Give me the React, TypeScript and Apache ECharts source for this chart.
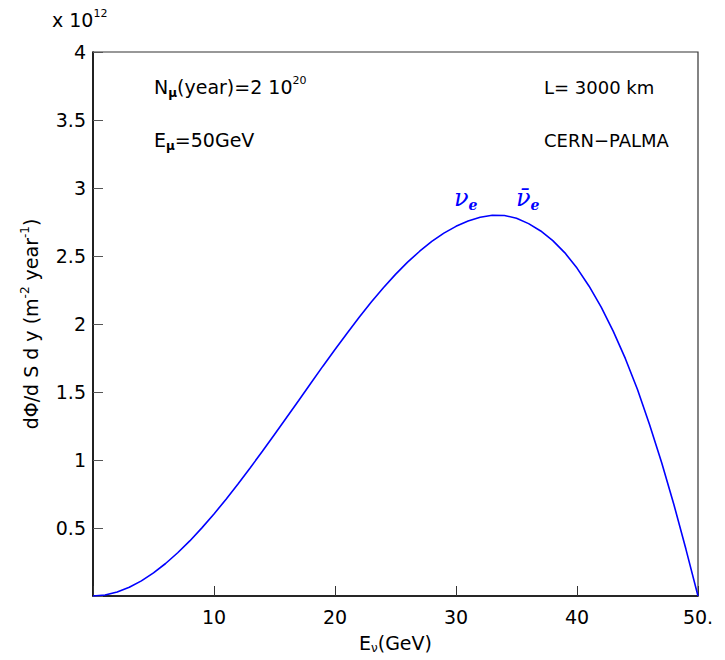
import React, { useEffect, useRef } from "react";
import * as echarts from "echarts";

// Neutrino energy (GeV)
const energies = [
  0, 1, 2, 3, 4, 5, 6, 7, 8, 9, 10, 11, 12, 13, 14, 15, 16, 17, 18, 19, 20,
  21, 22, 23, 24, 25, 26, 27, 28, 29, 30, 31, 32, 33, 34, 35, 36, 37, 38, 39,
  40, 41, 42, 43, 44, 45, 46, 47, 48, 49, 50,
];
// Flux dPhi/dS dy in units of 1e12 m^-2 year^-1
const flux = [
  0, 0.007, 0.029, 0.064, 0.111, 0.17, 0.239, 0.318, 0.405, 0.501, 0.603,
  0.712, 0.825, 0.943, 1.064, 1.188, 1.313, 1.438, 1.564, 1.69, 1.812, 1.932,
  2.05, 2.162, 2.266, 2.365, 2.455, 2.535, 2.607, 2.668, 2.718, 2.757, 2.785,
  2.8, 2.798, 2.778, 2.738, 2.684, 2.613, 2.523, 2.411, 2.278, 2.124, 1.946,
  1.745, 1.518, 1.26, 0.98, 0.675, 0.345, 0,
];
const xTickValues = [0, 10, 20, 30, 40, 50];
const xTickLabels = ["", "10", "20", "30", "40", "50."];
const yTickValues = [0, 0.5, 1, 1.5, 2, 2.5, 3, 3.5, 4];
const yTickLabels = ["", "0.5", "1", "1.5", "2", "2.5", "3", "3.5", "4"];

const FONT = "DejaVu Sans";
const SERIF = "DejaVu Serif";

export default function App() {
  const ref = useRef<HTMLDivElement>(null);
  useEffect(() => {
    if (!ref.current) return;
    const chart = echarts.init(ref.current, undefined, { renderer: "svg" });
    const txt = { fontFamily: FONT, fontSize: 19, color: "#000" };
    const option = {
      animation: false,
      backgroundColor: "#fff",
      grid: {
        left: 93,
        right: 27,
        top: 52,
        bottom: 64,
        show: true,
        borderColor: "#333",
        borderWidth: 1.2,
        backgroundColor: "transparent",
      },
      xAxis: {
        type: "value",
        min: 0,
        max: 50,
        interval: 10,
        name: "{a|E}{s|ν}{a|(GeV)}",
        nameLocation: "middle",
        nameGap: 36,
        nameTextStyle: {
          rich: {
            a: { ...txt, lineHeight: 22 },
            s: { fontFamily: FONT, fontSize: 12, color: "#000", lineHeight: 12, verticalAlign: "bottom" },
          },
        },
        axisLine: { show: true, lineStyle: { color: "#000", width: 1.5 } },
        axisTick: { show: true, inside: true, length: 10, lineStyle: { color: "#333", width: 1 } },
        splitLine: { show: false },
        axisLabel: {
          ...txt,
          margin: 11,
          formatter: (v: number) => {
            const i = xTickValues.indexOf(v);
            return i >= 0 ? xTickLabels[i] : "";
          },
        },
      },
      yAxis: {
        type: "value",
        min: 0,
        max: 4,
        interval: 0.5,
        name: "{a|dΦ/d S d y (m}{s|-2}{a| year}{s|-1}{a|)}",
        nameLocation: "middle",
        nameRotate: 90,
        nameGap: 50,
        nameTextStyle: {
          rich: {
            a: { ...txt, lineHeight: 24 },
            s: { fontFamily: FONT, fontSize: 12, color: "#000", lineHeight: 12, verticalAlign: "top" },
          },
        },
        axisLine: { show: true, lineStyle: { color: "#000", width: 1.5 } },
        axisTick: { show: true, inside: true, length: 10, lineStyle: { color: "#555", width: 1 } },
        splitLine: { show: false },
        axisLabel: {
          ...txt,
          margin: 7,
          formatter: (v: number) => {
            const i = yTickValues.indexOf(v);
            return i >= 0 ? yTickLabels[i] : "";
          },
        },
      },
      series: [
        {
          type: "line",
          data: energies.map((e, i) => [e, flux[i]]),
          showSymbol: false,
          smooth: false,
          lineStyle: { color: "#0000ff", width: 1.6 },
          silent: true,
        },
      ],
      graphic: [
        {
          type: "text",
          x: 52,
          y: 20,
          style: {
            text: "{a|x 10}{s|12}",
            verticalAlign: "middle",
            rich: {
              a: { fontFamily: FONT, fontSize: 19, fill: "#000", lineHeight: 24 },
              s: { fontFamily: FONT, fontSize: 11, fill: "#000", lineHeight: 12, verticalAlign: "top" },
            },
          },
        },
        {
          type: "text",
          x: 154,
          y: 87,
          style: {
            text: "{a|N}{s|μ}{a|(year)=2 10}{p|20}",
            verticalAlign: "middle",
            rich: {
              a: { fontFamily: FONT, fontSize: 19, fill: "#000", lineHeight: 24 },
              s: { fontFamily: FONT, fontSize: 12, fontWeight: "bold", fill: "#000", lineHeight: 12, verticalAlign: "bottom" },
              p: { fontFamily: FONT, fontSize: 11, fill: "#000", lineHeight: 12, verticalAlign: "top" },
            },
          },
        },
        {
          type: "text",
          x: 154,
          y: 140,
          style: {
            text: "{a|E}{s|μ}{a|=50GeV}",
            verticalAlign: "middle",
            rich: {
              a: { fontFamily: FONT, fontSize: 19, fill: "#000", lineHeight: 24 },
              s: { fontFamily: FONT, fontSize: 12, fontWeight: "bold", fill: "#000", lineHeight: 12, verticalAlign: "bottom" },
            },
          },
        },
        {
          type: "text",
          x: 544,
          y: 87,
          style: {
            text: "L= 3000 km",
            fontFamily: FONT,
            fontSize: 18,
            fill: "#000",
            verticalAlign: "middle",
          },
        },
        {
          type: "text",
          x: 544,
          y: 140,
          style: {
            text: "CERN−PALMA",
            fontFamily: FONT,
            fontSize: 18,
            fill: "#000",
            verticalAlign: "middle",
          },
        },
        {
          type: "text",
          x: 454,
          y: 198,
          style: {
            text: "{n|ν}{e|e}",
            verticalAlign: "middle",
            rich: {
              n: { fontFamily: SERIF, fontSize: 24, fontStyle: "italic", fill: "#0000ff", lineHeight: 28 },
              e: { fontFamily: SERIF, fontSize: 14, fontStyle: "italic", fontWeight: "bold", fill: "#0000ff", lineHeight: 14, verticalAlign: "bottom" },
            },
          },
        },
        {
          type: "text",
          x: 516,
          y: 198,
          style: {
            text: "{n|ν̄}{e|e}",
            verticalAlign: "middle",
            rich: {
              n: { fontFamily: SERIF, fontSize: 24, fontStyle: "italic", fill: "#0000ff", lineHeight: 28 },
              e: { fontFamily: SERIF, fontSize: 14, fontStyle: "italic", fontWeight: "bold", fill: "#0000ff", lineHeight: 14, verticalAlign: "bottom" },
            },
          },
        },
      ],
    };
    chart.setOption(option as any);
    return () => chart.dispose();
  }, []);
  return (
    <div
      ref={ref}
      style={{ position: "fixed", left: 0, top: 0, width: 725, height: 660, background: "#fff" }}
    />
  );
}
